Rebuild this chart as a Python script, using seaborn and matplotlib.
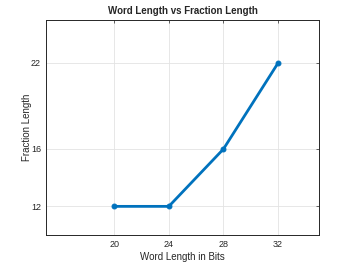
import matplotlib
matplotlib.use("Agg")
import matplotlib.pyplot as plt
import seaborn as sns
import pandas as pd

word_length = [20, 24, 28, 32]
fraction_length = [12, 12, 16, 22]
x_ticks = [20, 24, 28, 32]
y_ticks = [12, 16, 22]

sns.set_style("white")
plt.rcParams['font.family'] = ['Liberation Sans', 'DejaVu Sans']

df = pd.DataFrame({"Word Length in Bits": word_length, "Fraction Length": fraction_length})

fig = plt.figure(figsize=(3.53, 2.65), dpi=100)
ax = fig.add_axes([0.130, 0.113, 0.774, 0.812])
sns.lineplot(data=df, x="Word Length in Bits", y="Fraction Length", ax=ax,
             color="#0072BD", linewidth=2, marker="o", markersize=3.5,
             markeredgecolor="#0072BD")
ax.set_xlim(15, 35)
ax.set_ylim(10, 25)
ax.set_xticks(x_ticks)
ax.set_yticks(y_ticks)
ax.grid(True, color="#e3e3e3", linewidth=0.6)
ax.tick_params(direction="in", length=2.5, width=0.5, labelsize=6.5, colors="#262626",
               top=True, right=True, labeltop=False, labelright=False)
for s in ax.spines.values():
    s.set_visible(True)
    s.set_color("#262626")
    s.set_linewidth(0.7)
ax.set_xlabel("Word Length in Bits", fontsize=7, color="#262626", labelpad=2)
ax.set_ylabel("Fraction Length", fontsize=7, color="#262626", labelpad=-1)
ax.set_title("Word Length vs Fraction Length", fontsize=7, fontweight="bold", pad=4)
fig.savefig("out.png", dpi=100)
